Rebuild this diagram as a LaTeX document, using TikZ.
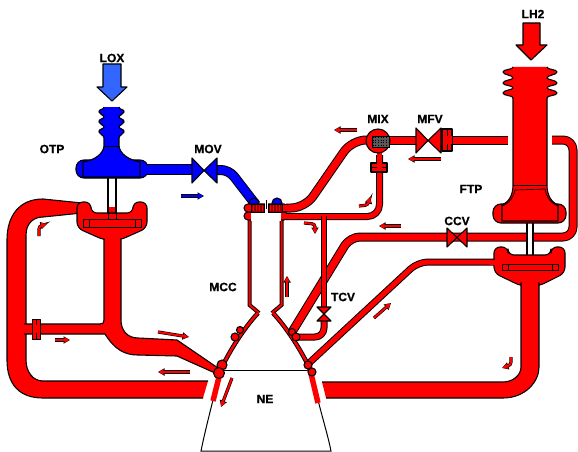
\documentclass[tikz,border=0pt]{standalone}
\usepackage{fontspec}
\setmainfont{Liberation Sans}[BoldFeatures={FakeBold=0.7}]
\usetikzlibrary{arrows.meta}
\definecolor{rd}{RGB}{255,0,0}
\definecolor{bl}{RGB}{0,0,255}
\definecolor{lox}{RGB}{51,102,255}
\newcommand{\pipeline}[3]{%
  \draw[black,line width=#1+2,line join=round,rounded corners=#2] #3;
  \draw[rd,line width=#1,line join=round,rounded corners=#2] #3;}
\newcommand{\pipeblue}[3]{%
  \draw[black,line width=#1+2,line join=round,rounded corners=#2] #3;
  \draw[bl,line width=#1,line join=round,rounded corners=#2] #3;}
\newcommand{\flowarrow}[2]{%
  \draw[black,line width=3.2pt,-{Triangle[length=6.5pt,width=7pt]},rounded corners=3pt] #2;
  \draw[#1,line width=2pt,shorten >=.6pt,-{Triangle[length=5pt,width=5pt]},rounded corners=3pt] #2;}
\tikzset{
  lbl/.style={font=\fontsize{12}{12}\selectfont\bfseries,inner sep=0pt,text=black},
  outl/.style={draw=black,line width=1.1pt,line join=round},
  rf/.style={outl,fill=rd},
  bf/.style={outl,fill=bl},
  wall/.style={draw=black,line width=1pt},
}
\begin{document}
\begin{tikzpicture}[x=1pt,y=-1pt]
\useasboundingbox (0,0) rectangle (578,452);
% nozzle extension
\draw[wall] (218,370) -- (312,370);
\draw[wall] (213,400) .. controls (208,420) and (204,436) .. (201,451) -- (331,451) .. controls (328,436) and (323,420) .. (318,400);
% LOX supply arrow
\draw[outl,fill=lox] (103,64) -- (121,64) -- (121,87) -- (127,87) -- (112,101) -- (97,87) -- (103,87) -- cycle;
% LH2 supply arrow
\draw[rf] (523,23) -- (540,23) -- (540,45) -- (547,45) -- (531,60) -- (516,45) -- (523,45) -- cycle;
% OTP shaft
\draw[draw=black,line width=2pt] (108,178) -- (108,213) (116,178) -- (116,213);
\fill[rd] (109,207) rectangle (115,219);
% Blue pump
\draw[bf,rounded corners=8pt] (76,160) rectangle (148,178);
\pipeblue{9}{0pt}{(146,169.5) -- (192,169.5)}
\draw[bf] (104,107) .. controls (104,110) and (98,109) .. (99,112) .. controls (100,115) and (104,115) .. (104,117)
  .. controls (104,119) and (98,119) .. (99,122) .. controls (100,125) and (104,125) .. (104,127)
  .. controls (104,129) and (98,129) .. (99,132) .. controls (100,135) and (104,135) .. (104,138)
  -- (104,146) .. controls (103,154) and (95,160) .. (83,162) -- (83,177) -- (140,177) -- (140,162)
  .. controls (129,160) and (120,154) .. (119,146) -- (119,138) .. controls (119,135) and (123,135) .. (124,132)
  .. controls (125,129) and (119,129) .. (119,127) .. controls (119,125) and (123,125) .. (124,122)
  .. controls (125,119) and (119,119) .. (119,117) .. controls (119,115) and (123,115) .. (124,112)
  .. controls (125,109) and (119,110) .. (119,107);
\draw[black,line width=.7pt] (104,146) -- (119,146);
% MOV
\pipeblue{8}{8pt}{(215,170) -- (229,170) -- (256,205)}
\draw[bf] (192,158) -- (204,170.5) -- (192,183) -- cycle;
\draw[bf] (217,158) -- (204,170.5) -- (217,183) -- cycle;
\draw[bf] (254,203) circle (5);
\draw[bf] (277,203) circle (5);
% big return pipe left
\draw[rf] (208,381) -- (43,381) .. controls (33,381) and (26,372) .. (26,360) -- (26,235) .. controls (26,222) and (35,217) .. (43,217) -- (82,213) -- (82,203) -- (43,199) .. controls (20,199) and (7,215) .. (7,240) -- (7,360) .. controls (7,385) and (20,398) .. (43,398) -- (203,398);
% OTP turbine discharge
\draw[rf] (24,334) -- (105,334) .. controls (115,350) and (125,355) .. (138,355) -- (177,356) -- (215,373) -- (218,368) -- (177,340) -- (138,338) .. controls (127,338) and (121,330) .. (121,320) -- (121,238) -- (104,238) -- (104,320) .. controls (104,323) and (103,324) .. (100,324) -- (24,324);
\fill[rd] (23,325) rectangle (30,333);
\draw[rf,line width=.9pt] (32,319) rectangle (40,339);
\draw[black,line width=.9pt] (36,319) -- (36,339);
\fill[rd] (32.5,325) rectangle (39.5,333);
% OTP turbine
\draw[rf,rounded corners=6pt] (77,202) -- (91,202) -- (91,213) -- (133,213) -- (133,202) -- (147,202) -- (147,228) -- (120,240) -- (104,240) -- (77,228) -- cycle;
\fill[rd] (105,232) rectangle (120,243);
\draw[rf,line width=.9pt] (83,219) rectangle (141,227);
\draw[black,line width=.9pt] (89,219) -- (89,227) (135,219) -- (135,227);
\draw[black,line width=1pt,fill=rd] (108,213) rectangle (116,219);
% MCC head feed pipes
\pipeline{7}{14pt}{(286,208) -- (305,208) -- (352,140) -- (370,140)}
\pipeline{5}{12pt}{(286,216.5) -- (379.5,216.5) -- (379.5,155)}
% CCV line
\pipeline{7}{10pt}{(292,332) -- (350,237) -- (573,237) -- (573,140) -- (552,140)}
% line to nozzle from FTP turbine
\pipeline{5}{10pt}{(308,364) -- (418,262) -- (496,262)}
% TCV line
\pipeline{4}{0pt}{(323.5,216) -- (323.5,309)}
\pipeline{5}{9pt}{(324,320) -- (324,337) -- (296,337)}
\draw[rf] (317,307) -- (331,307) -- (324,314) -- cycle;
\draw[rf] (317,321) -- (331,321) -- (324,314) -- cycle;
% chamber
\draw[black,line width=4pt] (249.5,214) -- (249.5,305) -- (259,313) (281.5,214) -- (281.5,305) -- (272,313);
\draw[rd,line width=2pt] (249.5,214) -- (249.5,305) -- (259,313) (281.5,214) -- (281.5,305) -- (272,313);
\draw[black,line width=4.5pt] (258,313) .. controls (246,326) and (233,345) .. (223,365) (273,313) .. controls (285,326) and (298,345) .. (308,365);
\draw[rd,line width=2.5pt] (258,313) .. controls (246,326) and (233,345) .. (223,365) (273,313) .. controls (285,326) and (298,345) .. (308,365);
\draw[rd,line width=5.5pt] (222,365) -- (213,401);
\draw[rd,line width=5.5pt] (309,365) -- (318,403);
\draw[rf] (240,330) circle (3.5);
\draw[rf] (235,337) circle (4);
\draw[rf] (222,365) circle (5);
\draw[rf] (219,373) circle (5.5);
\draw[rf] (292,332) circle (3.5);
\draw[rf] (296,337) circle (4);
\draw[rf] (308,365) circle (4);
\draw[rf] (312,372) circle (4);
% injector head
\draw[rf,rounded corners=4pt] (244,212) rectangle (288,220);
\draw[rf,rounded corners=4pt] (244,204) rectangle (288,212);
\fill[rd] (284,205) rectangle (290,211);
\fill[rd] (284,214) rectangle (290,219);
\fill[white] (251,212) rectangle (281,221);
\draw[black,line width=.8pt] (251,212) -- (281,212);
\draw[black,line width=.5pt,fill=rd!55!black] (251,204) rectangle (264,212);
\draw[black,line width=.5pt,fill=rd!55!black] (268,204) rectangle (282,212);
\foreach \xx in {253,256,...,263} {\draw[rd,line width=.7pt] (\xx,205) -- (\xx,211);}
\foreach \xx in {270,273,...,281} {\draw[rd,line width=.7pt] (\xx,205) -- (\xx,211);}
\fill[white] (264.5,203) rectangle (267.5,212.5);
\draw[black,line width=.8pt] (266,200) -- (266,209);
% main fuel line
\pipeline{7}{0pt}{(388,140) -- (418,140)}
\pipeline{7}{0pt}{(440,140) -- (508,140)}
\draw[rf] (442,129) rectangle (452,151);
\draw[black,line width=.9pt] (447,129) -- (447,151);
\fill[rd] (442.5,136) rectangle (451.5,144);
\draw[rf] (416,128) -- (428,140.5) -- (416,153) -- cycle;
\draw[rf] (441,128) -- (428,140.5) -- (441,153) -- cycle;
% MIX
\draw[rf] (371,163) rectangle (387,172);
\draw[black,line width=.9pt] (371,167.5) -- (387,167.5);
\fill[rd] (377,152) rectangle (382,171);
\draw[rf] (378,141) circle (12);
\draw[black,line width=.6pt,fill=black!65] (372,136) rectangle (389,147);
\foreach \yy in {137.5,140,...,146} {\draw[black,line width=.7pt,dotted] (372.5,\yy) -- (388.5,\yy);}
% FTP shaft
\draw[draw=black,line width=2pt] (527,222) -- (527,263) (533,222) -- (533,263);
\fill[white] (528,222) rectangle (532,258);
\fill[rd] (528,258) rectangle (532,265);
% FTP pump
\draw[rf,rounded corners=8pt] (493,204) rectangle (566,223);
\draw[rf] (513,67) .. controls (513,70) and (503,69) .. (503,72) .. controls (503,75) and (513,75) .. (513,78) .. controls (513,80) and (503,80) .. (503,83)
  .. controls (503,86) and (513,85) .. (513,88) .. controls (513,90) and (503,90) .. (503,93) .. controls (503,96) and (513,95) .. (513,98)
  -- (513,185) .. controls (513,195) and (509,202) .. (502,205) -- (502,221) -- (558,221) -- (558,205) .. controls (551,202) and (547,195) .. (547,185)
  -- (547,98) .. controls (547,95) and (557,96) .. (557,93) .. controls (557,90) and (547,90) .. (547,88) .. controls (547,85) and (557,86) .. (557,83)
  .. controls (557,80) and (547,80) .. (547,78) .. controls (547,75) and (557,75) .. (557,72) .. controls (557,69) and (547,70) .. (547,67);
\draw[black,line width=.7pt] (513,185) -- (547,185);
\draw[black,line width=.7pt] (502,206) .. controls (510,203) and (514,196) .. (515,190) -- (545,189) .. controls (546,196) and (550,203) .. (558,206);
% FTP turbine
\draw[rf,rounded corners=6pt] (494,247) -- (508,247) -- (508,255) -- (551,255) -- (551,247) -- (565,247) -- (565,273) -- (539,286) -- (521,286) -- (494,273) -- cycle;
\fill[rd] (490,259.5) rectangle (497,264.5);
\draw[rf] (322,382) -- (503,382) .. controls (513,382) and (521,375) .. (521,367) -- (521,283) -- (539,283) -- (539,367) .. controls (539,382) and (525,398) .. (503,398) -- (326,398);
\fill[rd] (522,280) rectangle (538,288);
\draw[rf,line width=.9pt] (502,264) rectangle (558,270);
\draw[black,line width=.9pt] (508,264) -- (508,270) (552,264) -- (552,270);
\fill[rd] (527,258) rectangle (533,264);
\draw[black,line width=.8pt] (526.5,264) -- (533.5,264);
% CCV
\draw[rf] (447,228) -- (457,237.5) -- (447,247) -- cycle;
\draw[rf] (467,228) -- (457,237.5) -- (467,247) -- cycle;
% flow arrows
\flowarrow{bl}{(181,196) -- (204,196)}
\flowarrow{rd}{(39,236) -- (39,226) -- (47,224)}
\flowarrow{rd}{(55,340) -- (70,340)}
\flowarrow{rd}{(158,332) -- (189,337)}
\flowarrow{rd}{(190,372) -- (158,372)}
\flowarrow{rd}{(232,378) -- (221,407)}
\flowarrow{rd}{(287,297) -- (287,276)}
\flowarrow{rd}{(374,318) -- (391,303)}
\flowarrow{rd}{(511,357) -- (511,365) -- (502,368)}
\flowarrow{rd}{(401,226) -- (379,226)}
\flowarrow{rd}{(304,223) -- (315,224) -- (315,234)}
\flowarrow{rd}{(359,206) -- (368,205) -- (370,197)}
\flowarrow{rd}{(441,159) -- (408,159)}
\flowarrow{rd}{(357,130) -- (334,130)}
% labels
\node[lbl] (lLOX) at (112,58) {LOX};
\node[lbl] (lOTP) at (52,149) {OTP};
\node[lbl] (lMOV) at (208,149) {MOV};
\node[lbl] (lMIX) at (378,119) {MIX};
\node[lbl] (lMFV) at (430,119) {MFV};
\node[lbl] (lLH) at (533,14) {LH2};
\node[lbl] (lFTP) at (471,189) {FTP};
\node[lbl] (lCCV) at (457,221) {CCV};
\node[lbl] (lMCC) at (223,287) {MCC};
\node[lbl] (lTCV) at (343,297) {TCV};
\node[lbl] (lNE) at (265,399) {NE};
\end{tikzpicture}
\end{document}
